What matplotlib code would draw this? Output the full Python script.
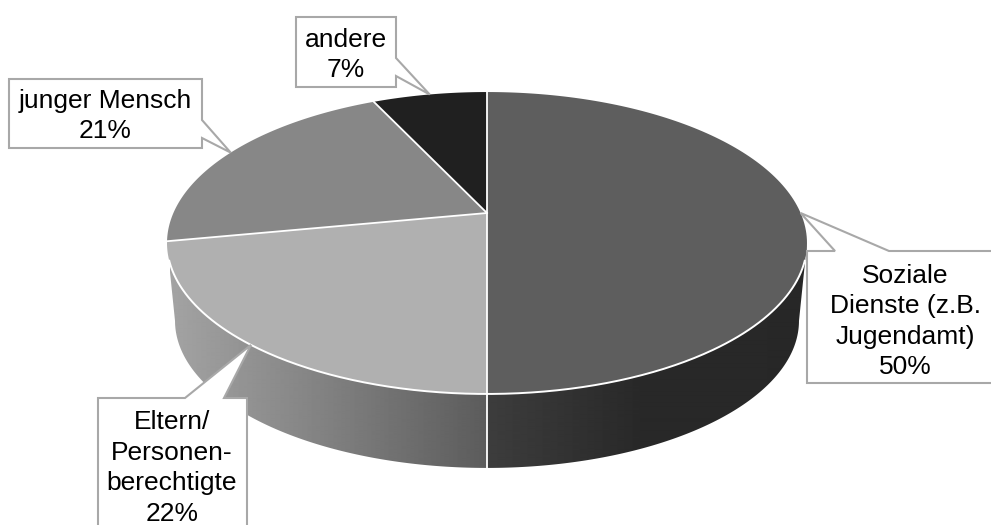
import numpy as np
import matplotlib
matplotlib.use('Agg')
import matplotlib.pyplot as plt
from matplotlib.patches import Polygon

etiquetas = ['Soziale\nDienste (z.B.\nJugendamt)', 'Eltern/\nPersonen-\nberechtigte', 'junger Mensch', 'andere']
valores = [50, 22, 21, 7]
colores = ['#5e5e5e', '#b0b0b0', '#878787', '#202020']

# caja de cada etiqueta: izquierda, arriba, derecha, abajo, y base de la flecha
cajas = [(807, 251, 1000, 383), (98, 398, 247, 540), (9, 79, 202, 148), (296, 17, 396, 87)]
bases = [((889, 251), (835, 251)), ((224, 398), (185, 398)), ((202, 138), (202, 120)), ((396, 76), (396, 58))]
lados = ['top', 'top', 'right', 'right']
textos_xy = [(905, 321.5), (172, 468), (105, 116), (346, 55)]

plt.rcParams['font.family'] = ['Liberation Sans', 'DejaVu Sans']

# geometria de la perspectiva (pixeles)
cx, cy = 487, 213
k = 0.1987
a, b = 145, 313.6
escala_base, salto_base = 0.975, 78.5


def borde(f):
    # fraccion de la vuelta (horario desde arriba) a punto en la tapa
    ang = 2 * np.pi * np.asarray(f, dtype=float)
    u, v = np.sin(ang), np.cos(ang)
    d = 1 + k * v
    return cx + b * u / d, cy - a * v / d


def borde_inferior(f):
    x, y = borde(f)
    return cx + (x - cx) * escala_base, cy + (y - cy) * escala_base + salto_base


def pared(ax, f0, f1, x_grad, gris):
    t = np.linspace(f0, f1, 200)
    xs, ys = borde(t)
    xi, yi = borde_inferior(t[::-1])
    poly = Polygon(np.column_stack([np.r_[xs, xi], np.r_[ys, yi]]), closed=True, fc='none', ec='none')
    ax.add_patch(poly)
    grad = np.interp(np.arange(x_grad[0], x_grad[-1]), x_grad, gris)[None, :]
    im = ax.imshow(grad, cmap='gray', vmin=0, vmax=1, aspect='auto', interpolation='bilinear',
                   extent=(x_grad[0], x_grad[-1], 480, 230), zorder=1)
    im.set_clip_path(poly)


fig = plt.figure(figsize=(9.91, 5.25), dpi=100)
ax = fig.add_axes([0, 0, 1, 1])

pared(ax, 0.5, 0.718, [170, 300, 487], [0.64, 0.53, 0.36])
pared(ax, 0.282, 0.5, [487, 640, 810], [0.24, 0.16, 0.155])

fracciones = np.cumsum([0] + valores) / sum(valores)

for i in range(len(valores)):
    t = np.linspace(fracciones[i], fracciones[i + 1], 150)
    xs, ys = borde(t)
    ax.fill(np.r_[cx, xs], np.r_[cy, ys], color=colores[i], lw=0, zorder=2)

# radios blancos y borde frontal
for f in fracciones[:-1]:
    xs, ys = borde(f)
    ax.plot([cx, xs], [cy, ys], color='white', lw=1.3, zorder=3)
t = np.linspace(0.30, 0.70, 300)
ax.plot(*borde(t), color='white', lw=1.4, zorder=3)
ax.plot([cx, cx], [borde(0.5)[1], borde_inferior(0.5)[1]], color='white', lw=1.3, zorder=3)

# etiquetas con flecha al punto medio de cada porcion
for i in range(len(valores)):
    izq, arr, der, aba = cajas[i]
    punta = borde((fracciones[i] + fracciones[i + 1]) / 2)
    b0, b1 = bases[i]
    if lados[i] == 'top':
        pts = [(izq, arr), b1, punta, b0, (der, arr), (der, aba), (izq, aba)]
    else:
        pts = [(izq, arr), (der, arr), b1, punta, b0, (der, aba), (izq, aba)]
    ax.add_patch(Polygon(pts, closed=True, fc='white', ec='#a8a8a8', lw=1.5, zorder=4, joinstyle='miter'))
    ax.text(textos_xy[i][0], textos_xy[i][1], f'{etiquetas[i]}\n{valores[i]}%', ha='center', va='center',
            ma='center', fontsize=19, linespacing=1.34, color='black', zorder=5)

ax.set_xlim(0, 991)
ax.set_ylim(525, 0)
ax.axis('off')

fig.savefig('out.png', dpi=100, facecolor='white')
